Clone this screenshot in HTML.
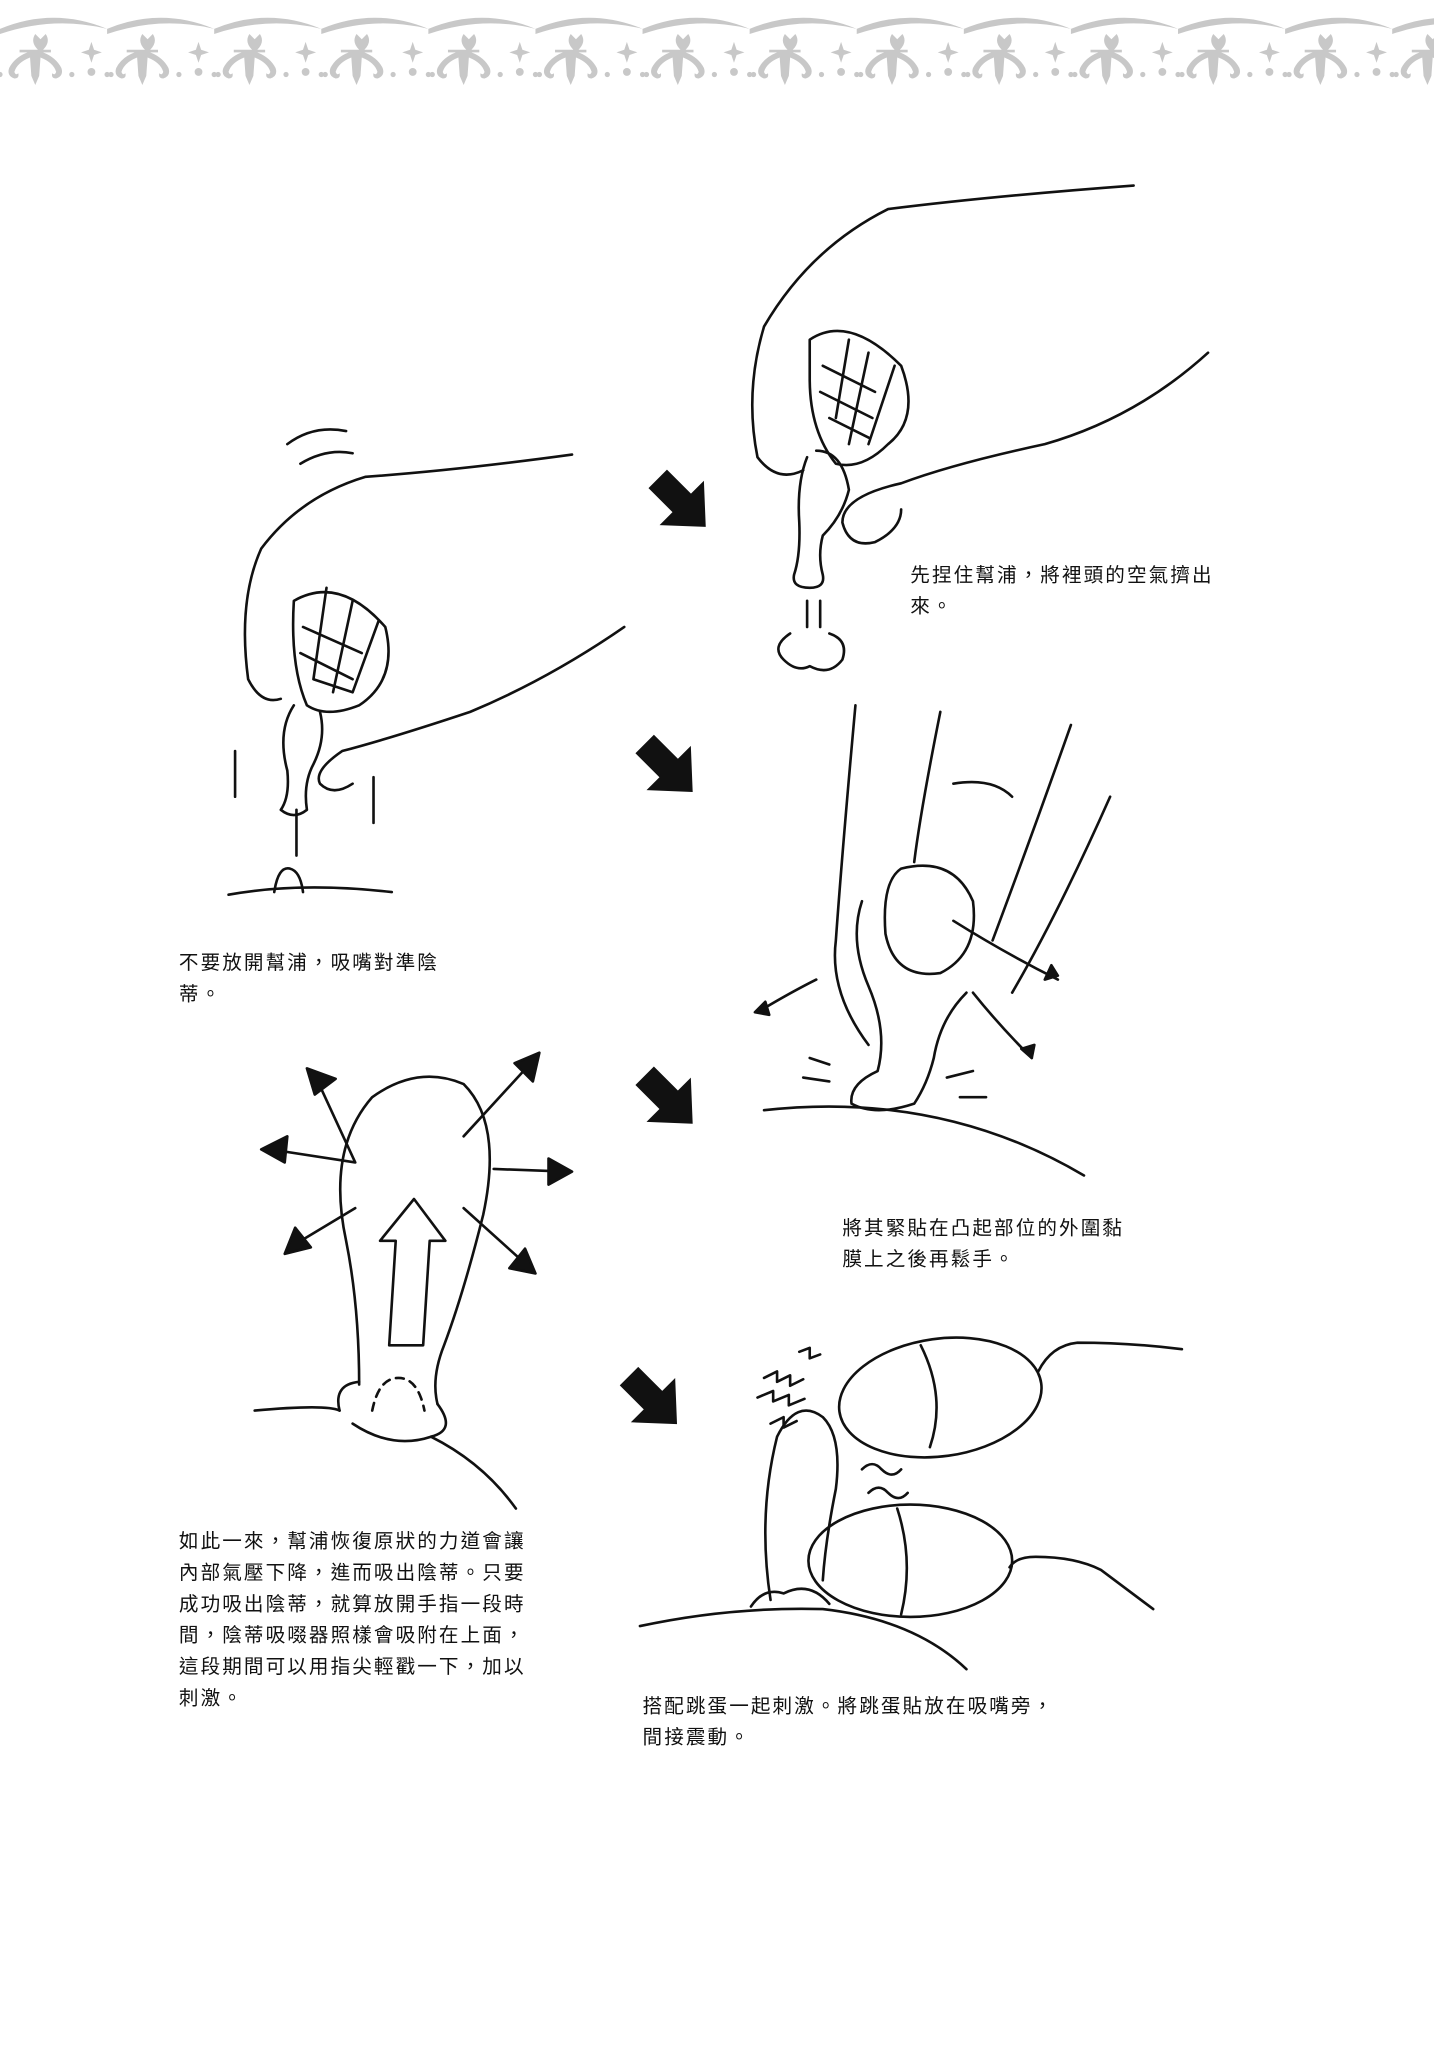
<!DOCTYPE html>
<html><head><meta charset="utf-8"><style>
html,body{margin:0;padding:0;background:#fff}
svg{display:block}
text{font-family:"Liberation Sans","Noto Sans CJK TC",sans-serif;font-size:15px;fill:#111;letter-spacing:1.6px}
</style></head><body>
<svg width="1434" height="2048" viewBox="0 0 1098 1568" xmlns="http://www.w3.org/2000/svg">
<defs>
<g id="orn" fill="#c8c8c8" stroke="none">
<path d="M-41,22 Q0,5 41,22 Q0,12 -41,26Z" transform="translate(41,0)"/>
<path d="M29,38 q-6,-6 -2,-12 l4,4 l4,-4 q4,6 -2,12 h6 v2 h-6 q10,4 14,12 q2,6 -4,8 q-4,0 -3,-4 q2,2 3,-1 q-2,-7 -12,-11 l-1,14 l-3,7 l-3,-7 l-1,-14 q-10,4 -12,11 q1,3 3,1 q1,4 -3,4 q-6,-2 -4,-8 q4,-8 14,-12 h-6 v-2Z"/>
<path d="M70,32 l2,6 l6,2 l-6,2 l-2,6 l-2,-6 l-6,-2 l6,-2Z"/>
<circle cx="70" cy="55" r="3"/><circle cx="55" cy="57" r="2"/><circle cx="85" cy="57" r="2"/><circle cx="0" cy="57" r="2"/>
</g>
<path id="barr" d="M-26,-10 L0,-10 L0,-24 L26,0 L0,24 L0,10 L-26,10Z" fill="#111"/>
</defs>
<g>
<use href="#orn" x="0"/><use href="#orn" x="82"/><use href="#orn" x="164"/><use href="#orn" x="246"/><use href="#orn" x="328"/><use href="#orn" x="410"/><use href="#orn" x="492"/><use href="#orn" x="574"/><use href="#orn" x="656"/><use href="#orn" x="738"/><use href="#orn" x="820"/><use href="#orn" x="902"/><use href="#orn" x="984"/><use href="#orn" x="1066"/>
</g>

<use href="#barr" transform="translate(522,385) rotate(45)"/>
<use href="#barr" transform="translate(512,588) rotate(45)"/>
<use href="#barr" transform="translate(512,842) rotate(45)"/>
<use href="#barr" transform="translate(500,1072) rotate(45)"/>

<g fill="none" stroke="#111" stroke-width="2" stroke-linecap="round" stroke-linejoin="round">
<!-- top right hand -->
<path d="M868,142 Q760,150 680,160 Q620,190 585,250 Q570,300 580,350 Q595,370 615,360"/>
<path d="M925,270 Q870,320 800,340 Q730,355 690,370 Q645,380 645,400 Q650,420 670,415 Q690,405 690,390"/>
<path d="M620,260 Q650,240 690,280 Q705,320 680,340 Q660,360 640,355 Q620,330 620,290Z"/>
<path d="M630,280 l40,20 M628,300 l40,20 M635,320 l30,15 M650,260 l-10,60 M665,270 l-15,70 M685,280 l-20,60"/>
<path d="M618,350 Q610,370 612,400 Q613,425 608,440 Q606,450 620,450 Q632,450 630,440 Q626,425 630,410 Q645,395 650,375 Q645,345 625,345"/>
<path d="M618,460 l0,20 M628,460 l0,20 M605,485 q-15,10 -5,20 q10,10 20,5 q15,8 25,-5 q5,-15 -10,-20"/>
<!-- left hand -->
<path d="M438,348 Q350,360 280,365 Q230,380 200,420 Q182,460 190,520 Q200,540 215,535"/>
<path d="M220,340 q20,-15 45,-10 M230,355 q20,-12 40,-8"/>
<path d="M478,480 Q420,520 360,545 Q300,565 262,575 Q240,590 245,600 Q255,610 270,600"/>
<path d="M225,460 Q260,440 295,480 Q305,520 275,540 Q250,550 235,540 Q222,510 225,460Z"/>
<path d="M232,480 l45,20 M230,500 l40,20 M240,520 l30,10 M250,450 l-10,70 M270,460 l-15,70 M290,475 l-20,55"/>
<path d="M225,540 Q212,560 220,590 Q222,610 215,620 Q225,628 235,620 Q232,600 240,585 Q250,565 245,545"/>
<path d="M180,575 v35 M286,595 v35 M227,620 v35"/>
<path d="M175,685 Q230,675 300,683"/>
<path d="M210,683 q3,-20 12,-18 q8,2 10,18"/>
<!-- thumb pressing -->
<path d="M655,540 Q645,650 640,720 Q635,760 665,800"/>
<path d="M720,545 Q705,620 700,660"/>
<path d="M820,555 Q790,640 760,720"/>
<path d="M850,610 Q810,700 775,760"/>
<path d="M730,600 q30,-5 45,10"/>
<path d="M690,665 Q730,655 745,690 Q750,730 720,745 Q685,750 678,715 Q675,675 690,665Z"/>
<path d="M660,690 Q650,720 665,755 Q680,790 672,820 Q650,830 652,845 Q670,855 700,845 Q710,830 715,810 Q720,780 740,760"/>
<path d="M730,705 Q770,730 810,750"/>
<path d="M745,760 q20,25 45,50"/>
<path d="M580,775 Q605,760 625,750"/>
<path d="M615,825 l20,3 M620,810 l15,5 M725,825 l20,-5 M735,840 l20,0"/>
<path d="M585,850 Q720,835 830,900"/>
<path d="M800,750 l10,-3 l-5,-8Z M790,810 l2,-10 l-10,3Z M578,775 l8,-8 l3,10Z" fill="#111"/>
<!-- big bulb -->
<path d="M275,1060 Q275,1000 265,950 Q250,880 285,840 Q320,815 355,830 Q385,860 370,930 Q355,990 340,1030 Q330,1055 335,1075"/>
<path d="M260,1080 Q255,1060 275,1058 M335,1075 Q350,1095 330,1100 Q300,1110 270,1090"/>
<path d="M285,1080 q5,-25 20,-25 q15,0 20,25" stroke-dasharray="6 5"/>
<path d="M195,1080 Q250,1075 260,1080 M330,1100 Q370,1120 395,1155"/>
<path d="M298,1030 l5,-80 l-12,0 l26,-32 l24,32 l-12,0 l-5,80Z"/>
<path d="M272,890 l-30,-65 M355,870 l55,-60 M272,890 l-65,-10 M378,895 l55,2 M272,925 l-50,30 M355,925 l50,45"/>
<path d="M235,818 l22,8 l-16,12Z M413,806 l-5,22 l-14,-14Z M200,880 l20,-10 l-2,20Z M438,897 l-18,10 l0,-20Z M218,960 l8,-20 l12,15Z M410,975 l-20,-4 l12,-15Z" fill="#111"/>
<!-- eggs -->
<ellipse cx="720" cy="1070" rx="78" ry="45" transform="rotate(-8 720 1070)"/>
<path d="M705,1030 Q725,1070 712,1108"/>
<path d="M795,1050 q10,-20 30,-22 q40,0 80,5"/>
<ellipse cx="697" cy="1195" rx="78" ry="43"/>
<path d="M687,1155 Q700,1195 690,1236"/>
<path d="M773,1200 q5,-8 20,-8 q30,0 50,10 q20,15 40,30"/>
<path d="M590,1225 Q580,1160 595,1100 Q610,1070 630,1085 Q645,1100 640,1140 Q632,1180 630,1210"/>
<path d="M575,1230 q10,-15 25,-10 q20,-10 35,8"/>
<path d="M490,1245 Q560,1230 630,1232 Q700,1240 740,1278"/>
<path d="M585,1055 l10,-5 l0,8 l10,-5 l0,8 l10,-5 M580,1070 l12,-5 l0,8 l12,-5 l0,8 l12,-5 M590,1090 l10,-5 l0,8 l10,-5 M612,1035 l8,-3 l0,8 l8,-3 M660,1125 q8,-8 15,0 q8,8 15,0 M665,1143 q8,-8 15,0 q8,8 15,0"/>
</g>

<text x="697" y="445">先捏住幫浦，將裡頭的空氣擠出</text>
<text x="697" y="469">來。</text>
<text x="137" y="742">不要放開幫浦，吸嘴對準陰</text>
<text x="137" y="766">蒂。</text>
<text x="645" y="945">將其緊貼在凸起部位的外圍黏</text>
<text x="645" y="969">膜上之後再鬆手。</text>
<text x="137" y="1185">如此一來，幫浦恢復原狀的力道會讓</text>
<text x="137" y="1209">內部氣壓下降，進而吸出陰蒂。只要</text>
<text x="137" y="1233">成功吸出陰蒂，就算放開手指一段時</text>
<text x="137" y="1257">間，陰蒂吸啜器照樣會吸附在上面，</text>
<text x="137" y="1281">這段期間可以用指尖輕戳一下，加以</text>
<text x="137" y="1305">刺激。</text>
<text x="492" y="1311">搭配跳蛋一起刺激。將跳蛋貼放在吸嘴旁，</text>
<text x="492" y="1335">間接震動。</text>
</svg>
</body></html>
